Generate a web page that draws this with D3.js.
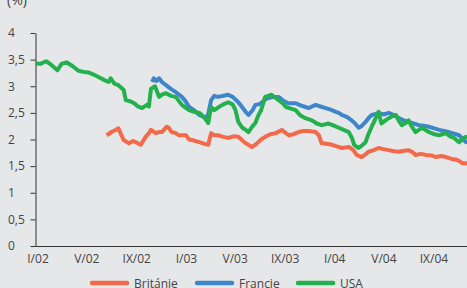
<!DOCTYPE html>
<html>
<head>
<meta charset="utf-8">
<script src="https://cdn.jsdelivr.net/npm/d3@7"></script>
<style>
    html, body { margin: 0; padding: 0; background: #e6e7e9; }
    svg { display: block; }
    text { font-family: 'Open Sans', 'Noto Sans', sans-serif; fill: #444; }
</style>
</head>
<body>
<svg id="chart" width="467" height="288"></svg>
<script>
// series names and colours (legend order)
var seriesNames = ["Británie", "Francie", "USA"];
var seriesColors = ["#f26a49", "#3e86cb", "#22b14c"];

// Británie
var britainValues = [
    ["2002-06-25", 2.08], ["2002-07-07", 2.14], ["2002-07-17", 2.18], ["2002-07-24", 2.21],
    ["2002-07-29", 2.12], ["2002-08-06", 1.99], ["2002-08-19", 1.93], ["2002-08-29", 1.97],
    ["2002-09-05", 1.95], ["2002-09-17", 1.90], ["2002-09-29", 2.05], ["2002-10-07", 2.12],
    ["2002-10-12", 2.18], ["2002-10-24", 2.12], ["2002-11-01", 2.14], ["2002-11-08", 2.14],
    ["2002-11-20", 2.24], ["2002-11-25", 2.22], ["2002-12-02", 2.14], ["2002-12-12", 2.12],
    ["2002-12-19", 2.08], ["2003-01-06", 2.08], ["2003-01-14", 2.00], ["2003-01-21", 1.99],
    ["2003-02-08", 1.95], ["2003-02-20", 1.92], ["2003-03-02", 1.90], ["2003-03-09", 2.12],
    ["2003-03-17", 2.08], ["2003-03-26", 2.08], ["2003-04-08", 2.05], ["2003-04-20", 2.03],
    ["2003-05-03", 2.06], ["2003-05-15", 2.05], ["2003-05-25", 1.98], ["2003-06-02", 1.93],
    ["2003-06-09", 1.90], ["2003-06-17", 1.86], ["2003-06-26", 1.90], ["2003-07-03", 1.95],
    ["2003-07-10", 2.00], ["2003-07-20", 2.05], ["2003-08-02", 2.10], ["2003-08-15", 2.12],
    ["2003-08-30", 2.18], ["2003-09-09", 2.12], ["2003-09-16", 2.08], ["2003-09-28", 2.10],
    ["2003-10-10", 2.14], ["2003-10-22", 2.16], ["2003-11-04", 2.16], ["2003-11-21", 2.14],
    ["2003-11-29", 2.08], ["2003-12-06", 1.93], ["2003-12-18", 1.92], ["2004-01-01", 1.90],
    ["2004-01-12", 1.87], ["2004-01-25", 1.84], ["2004-02-11", 1.86], ["2004-02-22", 1.80],
    ["2004-03-01", 1.71], ["2004-03-13", 1.67], ["2004-03-23", 1.72], ["2004-03-30", 1.77],
    ["2004-04-12", 1.80], ["2004-04-24", 1.84], ["2004-05-06", 1.82], ["2004-05-19", 1.80],
    ["2004-06-01", 1.78], ["2004-06-13", 1.77], ["2004-06-25", 1.79], ["2004-07-07", 1.80],
    ["2004-07-17", 1.76], ["2004-07-24", 1.71], ["2004-08-06", 1.73], ["2004-08-19", 1.71],
    ["2004-09-01", 1.70], ["2004-09-12", 1.67], ["2004-09-25", 1.69], ["2004-10-07", 1.67],
    ["2004-10-19", 1.64], ["2004-11-01", 1.62], ["2004-11-08", 1.60], ["2004-11-15", 1.56],
    ["2004-11-25", 1.55], ["2004-12-08", 1.57]
];

// Francie
var franceValues = [
    ["2002-10-15", 3.08], ["2002-10-19", 3.15], ["2002-10-26", 3.10], ["2002-11-01", 3.15],
    ["2002-11-08", 3.08], ["2002-11-18", 3.02], ["2002-11-30", 2.95], ["2002-12-12", 2.89],
    ["2002-12-19", 2.85], ["2002-12-27", 2.80], ["2003-01-05", 2.72], ["2003-01-14", 2.61],
    ["2003-01-26", 2.55], ["2003-02-08", 2.46], ["2003-02-20", 2.42], ["2003-02-25", 2.40],
    ["2003-03-02", 2.48], ["2003-03-09", 2.74], ["2003-03-17", 2.82], ["2003-03-26", 2.80],
    ["2003-04-08", 2.82], ["2003-04-20", 2.84], ["2003-05-01", 2.80], ["2003-05-08", 2.75],
    ["2003-05-15", 2.70], ["2003-05-25", 2.60], ["2003-06-02", 2.52], ["2003-06-09", 2.46],
    ["2003-06-19", 2.55], ["2003-06-26", 2.65], ["2003-07-03", 2.66], ["2003-07-10", 2.68],
    ["2003-07-20", 2.75], ["2003-07-28", 2.78], ["2003-08-10", 2.80], ["2003-08-22", 2.80],
    ["2003-09-01", 2.74], ["2003-09-09", 2.70], ["2003-09-16", 2.68], ["2003-09-26", 2.68],
    ["2003-10-03", 2.68], ["2003-10-15", 2.64], ["2003-10-27", 2.61], ["2003-11-04", 2.59],
    ["2003-11-12", 2.62], ["2003-11-21", 2.65], ["2003-12-03", 2.62], ["2003-12-16", 2.59],
    ["2003-12-28", 2.56], ["2004-01-10", 2.52], ["2004-01-17", 2.50], ["2004-01-25", 2.46],
    ["2004-02-04", 2.43], ["2004-02-11", 2.40], ["2004-02-24", 2.32], ["2004-03-06", 2.22],
    ["2004-03-13", 2.25], ["2004-03-23", 2.33], ["2004-03-30", 2.40], ["2004-04-07", 2.46],
    ["2004-04-17", 2.48], ["2004-04-24", 2.50], ["2004-05-06", 2.47], ["2004-05-19", 2.50],
    ["2004-06-01", 2.46], ["2004-06-13", 2.40], ["2004-06-25", 2.36], ["2004-07-07", 2.33],
    ["2004-07-19", 2.30], ["2004-08-01", 2.27], ["2004-08-13", 2.26], ["2004-08-26", 2.24],
    ["2004-09-08", 2.21], ["2004-09-20", 2.18], ["2004-10-02", 2.16], ["2004-10-14", 2.14],
    ["2004-10-27", 2.11], ["2004-11-08", 2.08], ["2004-11-18", 2.00], ["2004-11-25", 1.95],
    ["2004-12-08", 1.97]
];

// USA
var usaValues = [
    ["2002-01-01", 3.43], ["2002-01-13", 3.42], ["2002-01-27", 3.47], ["2002-02-09", 3.40],
    ["2002-02-24", 3.30], ["2002-03-06", 3.42], ["2002-03-18", 3.45], ["2002-04-02", 3.38],
    ["2002-04-17", 3.29], ["2002-04-29", 3.27], ["2002-05-11", 3.26], ["2002-05-24", 3.22],
    ["2002-06-06", 3.17], ["2002-06-18", 3.12], ["2002-06-30", 3.08], ["2002-07-05", 3.15],
    ["2002-07-14", 3.05], ["2002-07-24", 3.02], ["2002-08-06", 2.93], ["2002-08-11", 2.74],
    ["2002-08-21", 2.72], ["2002-09-01", 2.68], ["2002-09-10", 2.62], ["2002-09-20", 2.59],
    ["2002-10-02", 2.65], ["2002-10-07", 2.62], ["2002-10-12", 2.95], ["2002-10-22", 3.00],
    ["2002-11-01", 2.80], ["2002-11-10", 2.85], ["2002-11-18", 2.87], ["2002-11-30", 2.82],
    ["2002-12-12", 2.80], ["2002-12-27", 2.65], ["2003-01-05", 2.60], ["2003-01-14", 2.55],
    ["2003-01-26", 2.52], ["2003-02-08", 2.50], ["2003-02-20", 2.42], ["2003-03-02", 2.31],
    ["2003-03-09", 2.61], ["2003-03-17", 2.55], ["2003-03-26", 2.60], ["2003-04-08", 2.66],
    ["2003-04-20", 2.70], ["2003-05-01", 2.66], ["2003-05-08", 2.55], ["2003-05-15", 2.33],
    ["2003-05-25", 2.22], ["2003-06-02", 2.18], ["2003-06-09", 2.14], ["2003-06-19", 2.25],
    ["2003-06-26", 2.31], ["2003-07-03", 2.45], ["2003-07-10", 2.55], ["2003-07-20", 2.80],
    ["2003-08-05", 2.84], ["2003-08-15", 2.78], ["2003-08-22", 2.74], ["2003-09-01", 2.68],
    ["2003-09-09", 2.61], ["2003-09-21", 2.58], ["2003-10-03", 2.55], ["2003-10-15", 2.45],
    ["2003-10-27", 2.40], ["2003-11-12", 2.36], ["2003-11-24", 2.30], ["2003-12-06", 2.27],
    ["2003-12-23", 2.30], ["2004-01-05", 2.26], ["2004-01-17", 2.22], ["2004-01-29", 2.18],
    ["2004-02-11", 2.14], ["2004-02-19", 2.02], ["2004-02-24", 1.90], ["2004-03-06", 1.84],
    ["2004-03-13", 1.88], ["2004-03-23", 1.95], ["2004-03-30", 2.10], ["2004-04-07", 2.24],
    ["2004-04-17", 2.40], ["2004-04-24", 2.52], ["2004-05-01", 2.30], ["2004-05-11", 2.36],
    ["2004-05-19", 2.40], ["2004-05-29", 2.44], ["2004-06-06", 2.46], ["2004-06-13", 2.35],
    ["2004-06-20", 2.27], ["2004-06-28", 2.30], ["2004-07-07", 2.36], ["2004-07-14", 2.25],
    ["2004-07-24", 2.14], ["2004-08-01", 2.18], ["2004-08-09", 2.22], ["2004-08-19", 2.17],
    ["2004-08-26", 2.14], ["2004-09-08", 2.10], ["2004-09-20", 2.08], ["2004-10-07", 2.12],
    ["2004-10-17", 2.06], ["2004-10-27", 2.03], ["2004-11-08", 1.95], ["2004-11-18", 2.02],
    ["2004-11-25", 2.05], ["2004-12-08", 2.00]
];

// x axis labels
var xTickDates = ["2002-01-01", "2002-05-01", "2002-09-01", "2003-01-01", "2003-05-01",
                  "2003-09-01", "2004-01-01", "2004-05-01", "2004-09-01"];
var xTickLabels = ["I/02", "V/02", "IX/02", "I/03", "V/03", "IX/03", "I/04", "V/04", "IX/04"];
// y axis labels
var yTickValues = [0, 0.5, 1, 1.5, 2, 2.5, 3, 3.5, 4];

var parse = d3.timeParse("%Y-%m-%d");
var allSeries = [britainValues, franceValues, usaValues].map(function(s) {
    return s.map(function(d) { return { date: parse(d[0]), value: d[1] }; });
});

var svg = d3.select("#chart");
var plotLeft = 35.5, plotBottom = 246, plotTop = 33;

var x = d3.scaleTime()
    .domain([parse("2002-01-01"), parse("2005-01-01")])
    .range([plotLeft, plotLeft + 36 * 12.375]);
var y = d3.scaleLinear().domain([0, 4]).range([plotBottom, plotTop]);

// (%) unit label, partly cut at the top like the original
svg.append("text")
    .attr("x", 7).attr("y", 5)
    .style("font-size", "14px")
    .text("(%)");

// y axis
var yAxis = svg.append("g")
    .attr("transform", "translate(" + plotLeft + ",0)")
    .call(d3.axisLeft(y)
        .tickValues(yTickValues)
        .tickSize(5)
        .tickSizeOuter(0)
        .tickFormat(function(d) { return String(d).replace(".", ","); }));
yAxis.select(".domain").attr("stroke", "#333");
yAxis.selectAll(".tick line").attr("stroke", "#333");
yAxis.selectAll(".tick text")
    .attr("x", -(plotLeft - 8))
    .attr("text-anchor", "start")
    .style("font-size", "12px")
    .style("font-family", "'Open Sans', sans-serif")
    .attr("fill", "#444");

// x axis
var xAxis = svg.append("g")
    .attr("transform", "translate(0," + plotBottom + ")")
    .call(d3.axisBottom(x)
        .tickValues(xTickDates.map(parse))
        .tickSize(0)
        .tickSizeOuter(0)
        .tickFormat(function(d, i) { return xTickLabels[i]; }));
xAxis.select(".domain").attr("stroke", "#333").attr("d", "M" + plotLeft + ",0.5H600");
xAxis.selectAll(".tick text")
    .attr("dx", 2)
    .attr("y", 8)
    .style("font-size", "12px")
    .style("font-family", "'Open Sans', sans-serif")
    .attr("fill", "#444");

// lines
var line = d3.line()
    .x(function(d) { return x(d.date); })
    .y(function(d) { return y(d.value); });

svg.selectAll("path.series")
    .data(allSeries)
    .enter()
    .append("path")
    .attr("class", "series")
    .attr("fill", "none")
    .attr("stroke", function(d, i) { return seriesColors[i]; })
    .attr("stroke-width", 4)
    .attr("stroke-linejoin", "round")
    .attr("d", line);

// legend
var legendX = [92, 197, 298];
var legend = svg.selectAll("g.legend")
    .data(seriesNames)
    .enter()
    .append("g")
    .attr("class", "legend")
    .attr("transform", function(d, i) { return "translate(" + legendX[i] + ",283)"; });
legend.append("line")
    .attr("x1", 0).attr("x2", 35)
    .attr("stroke", function(d, i) { return seriesColors[i]; })
    .attr("stroke-width", 4.5)
    .attr("stroke-linecap", "round");
legend.append("text")
    .attr("x", 42).attr("y", 4.5)
    .style("font-size", "12px")
    .text(function(d) { return d; });
</script>
</body>
</html>
